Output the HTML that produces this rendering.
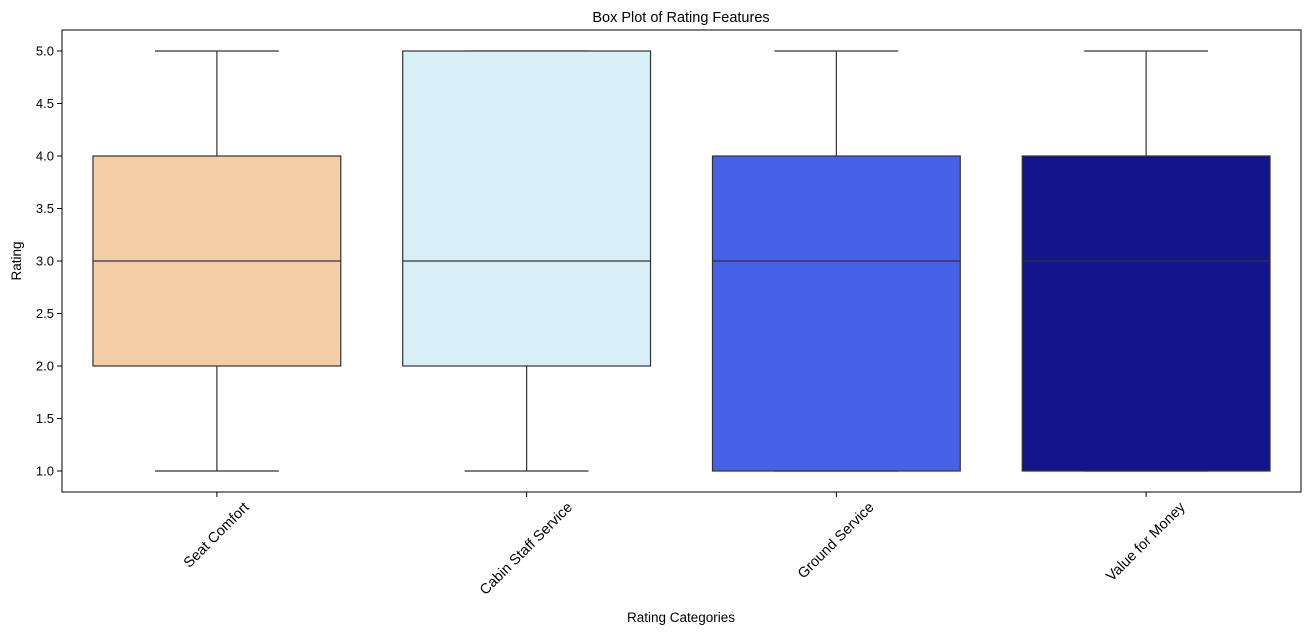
<!DOCTYPE html>
<html><head><meta charset="utf-8"><style>body{margin:0;background:#fff}svg{display:block;font-family:"Liberation Sans","DejaVu Sans",sans-serif}</style></head>
<body>
<svg id="chart" width="1311" height="635">
<text x="681" y="22" text-anchor="middle" font-size="14.5">Box Plot of Rating Features</text>
<text x="681" y="622" text-anchor="middle" font-size="13.5">Rating Categories</text>
<text transform="translate(21,261) rotate(-90)" text-anchor="middle" font-size="13.5">Rating</text>
<g id="marks"></g>
<rect x="62" y="30" width="1239" height="462" fill="none" stroke="#000" stroke-width="1"/>
</svg>
<script>
const categories=["Seat Comfort","Cabin Staff Service","Ground Service","Value for Money"];
const mins=[1,1,1,1];
const q1s=[2,2,1,1];
const medians=[3,3,3,3];
const q3s=[4,5,4,4];
const maxs=[5,5,5,5];
const colors=["#f2cda6","#d9eff7","#4561e6","#13168a"];
const yTicks=[1.0,1.5,2.0,2.5,3.0,3.5,4.0,4.5,5.0];
const NS="http://www.w3.org/2000/svg";
const g=document.getElementById('marks');
const L=62,R=1301,B=492;
const step=(R-L)/categories.length;
function x(i){return L+step*(i+0.5);}
function y(v){return 471-(v-1)*105;}
function el(t,a){const e=document.createElementNS(NS,t);for(const k in a)e.setAttribute(k,a[k]);g.appendChild(e);return e;}
yTicks.forEach(v=>{
 const t=el('line',{x1:L-5,x2:L,y1:y(v),y2:y(v),stroke:'#000'});
 
 
 const l=el('text',{x:L-8,y:y(v)+4.5,'text-anchor':'end','font-size':13});
 l.textContent=v.toFixed(1);
 
 
});
categories.forEach((c,i)=>{
 const cx=x(i),bw=step*0.8,cw=bw/2,s='#333';
 const w1=el('line',{x1:cx,x2:cx,y1:y(q3s[i]),y2:y(maxs[i]),stroke:s,'stroke-width':1.2});
 
 
 const w2=el('line',{x1:cx,x2:cx,y1:y(q1s[i]),y2:y(mins[i]),stroke:s,'stroke-width':1.2});
 
 
 const c1=el('line',{x1:cx-cw/2,x2:cx+cw/2,y1:y(maxs[i]),y2:y(maxs[i]),stroke:s,'stroke-width':1.2});
 
 
 const c2=el('line',{x1:cx-cw/2,x2:cx+cw/2,y1:y(mins[i]),y2:y(mins[i]),stroke:s,'stroke-width':1.2});
 
 
 const b=el('rect',{x:cx-bw/2,y:y(q3s[i]),width:bw,height:y(q1s[i])-y(q3s[i]),fill:colors[i],stroke:s,'stroke-width':1.2});
 
 
 const m=el('line',{x1:cx-bw/2,x2:cx+bw/2,y1:y(medians[i]),y2:y(medians[i]),stroke:s,'stroke-width':1.2});
 
 
 const t=el('line',{x1:cx,x2:cx,y1:B,y2:B+5,stroke:'#000'});
 
 
 const l=el('text',{'text-anchor':'middle','font-size':14.5,'dominant-baseline':'middle'});
 l.textContent=c;
 
 
 const len=l.getComputedTextLength();
 const h=(len+15)*Math.SQRT1_2;
 l.setAttribute('transform',`translate(${cx},${B+8+h/2}) rotate(-45)`);
});
</script>
</body></html>
